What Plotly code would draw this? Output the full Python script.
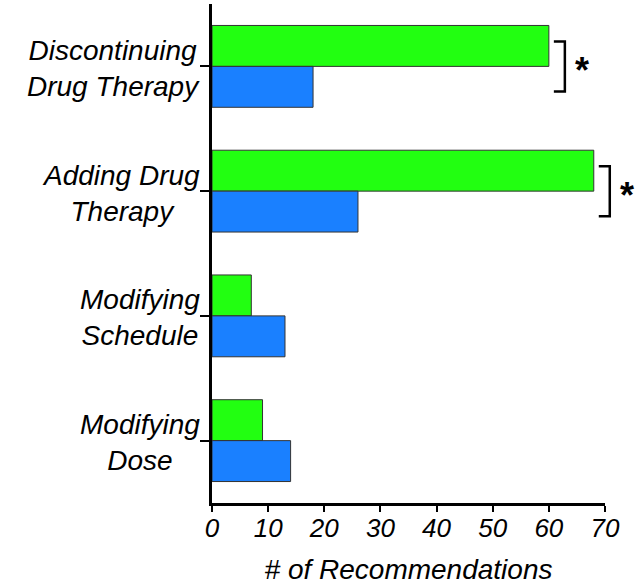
import plotly.graph_objects as go

categories = ["Discontinuing<br>Drug Therapy", "Adding Drug<br>Therapy",
              "Modifying<br>Schedule", "Modifying<br>Dose"]
green_vals = [60, 68, 7, 9]
blue_vals = [18, 26, 13, 14]
significant = [0, 1]  # categories marked with *
x_ticks = [0, 10, 20, 30, 40, 50, 60, 70]

XMAX = 70
PLOT_W = 393  # px width of plotting area
PLOT_H = 499
FONT = "Liberation Sans, Arial, sans-serif"

fig = go.Figure()
fig.add_trace(go.Bar(
    y=categories, x=green_vals, orientation="h", name="green",
    marker=dict(color="#22ff11", line=dict(color="#333333", width=1))
))
fig.add_trace(go.Bar(
    y=categories, x=blue_vals, orientation="h", name="blue",
    marker=dict(color="#1a80ff", line=dict(color="#333333", width=1))
))

# centred category labels (left of the axis)
annotations = []
for c in categories:
    annotations.append(dict(
        x=0, xref="paper", y=c, yref="y", xanchor="right", yanchor="middle",
        xshift=-10, yshift=-2, text="<i>" + c + "</i>", showarrow=False, align="center",
        font=dict(family=FONT, size=28, color="black")
    ))

# significance brackets
shapes = []
for i in significant:
    yc = 1 - (i + 0.5) / len(categories)
    x0 = green_vals[i] / XMAX + 5 / PLOT_W
    x1 = x0 + 11 / PLOT_W
    dy = 25 / PLOT_H
    shapes.append(dict(
        type="path", xref="paper", yref="paper",
        path=f"M {x0},{yc + dy} L {x1},{yc + dy} L {x1},{yc - dy} L {x0},{yc - dy}",
        line=dict(color="black", width=2.5)
    ))
    annotations.append(dict(
        x=x1, xref="paper", y=yc, yref="paper", xanchor="left", yanchor="middle",
        xshift=8, yshift=-4, text="<b>*</b>", showarrow=False,
        font=dict(family=FONT, size=36, color="black")
    ))

fig.update_layout(
    width=642, height=585,
    margin=dict(l=212, r=37, t=4, b=82),
    plot_bgcolor="white", paper_bgcolor="white",
    barmode="group", bargap=0.344, bargroupgap=0,
    showlegend=False,
    annotations=annotations, shapes=shapes,
    font=dict(family=FONT, color="black"),
)
fig.update_xaxes(
    range=[0, XMAX], tickvals=x_ticks,
    ticktext=[f"<i>{t}</i>" for t in x_ticks],
    tickfont=dict(size=26), ticks="outside", ticklen=6, tickwidth=2, tickcolor="black",
    ticklabelstandoff=-6,
    showline=True, linecolor="black", linewidth=2.5, showgrid=False, zeroline=False,
    title=dict(text="<i># of Recommendations</i>", font=dict(size=28), standoff=18),
    automargin=False,
)
fig.update_yaxes(
    autorange="reversed", showticklabels=False,
    ticks="outside", ticklen=9, tickwidth=1.5, tickcolor="black",
    showline=True, linecolor="black", linewidth=2.5, showgrid=False, zeroline=False,
    automargin=False,
)

fig.write_html("out.html", config={"displayModeBar": False},
               post_script="document.body.style.margin='0';")
